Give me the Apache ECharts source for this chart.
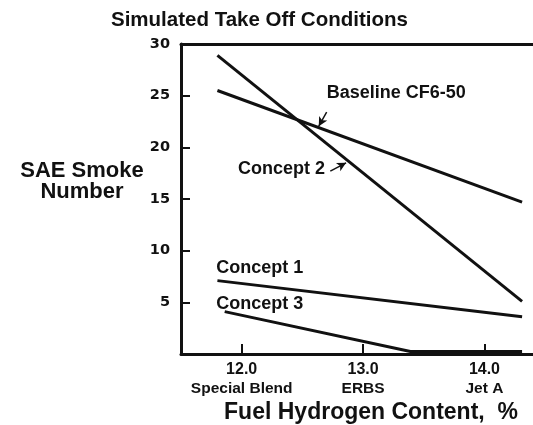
<!DOCTYPE html>
<html>
<head>
<meta charset="utf-8">
<script src="https://cdn.jsdelivr.net/npm/echarts@6/dist/echarts.min.js"></script>
<style>
  html, body { margin: 0; padding: 0; background: #fff; }
  #chart { width: 533px; height: 425px; }
</style>
</head>
<body>
<div id="chart"></div>
<script>
// fuel hydrogen content (%) at line ends
const lineX = [11.8, 14.31]
const baseline = [25.5, 14.7]
const concept2 = [28.9, 5.1]
const concept1 = [7.1, 3.6]
// concept 3 bends onto the axis
const concept3X = [11.86, 13.39, 14.31]
const concept3 = [4.1, 0.25, 0.25]

const xTickValues = [12, 13, 14]
const xTickNames = ['12.0', '13.0', '14.0']
const xTickFuels = ['Special Blend', 'ERBS', 'Jet A']
const yTickValues = [5, 10, 15, 20, 25, 30]

// text labels, anchored in data units (left edge, middle)
const notes = [
  { text: 'Baseline CF6-50', at: [12.70, 25.3] },
  { text: 'Concept 2', at: [11.97, 17.9] },
  { text: 'Concept 1', at: [11.79, 8.3] },
  { text: 'Concept 3', at: [11.79, 4.85] }
]
const arrows = [
  [[12.70, 23.4], [12.635, 22.05]],
  [[12.73, 17.7], [12.86, 18.5]]
]

const font = 'Liberation Sans, Arial, sans-serif'
const black = '#111'

const pairs = (xs, ys) => xs.map((x, i) => [x, ys[i]])

const lineSeries = (name, data) => ({
  name,
  type: 'line',
  data,
  symbol: 'none',
  silent: true,
  lineStyle: { color: black, width: 3 }
})

const chart = echarts.init(document.getElementById('chart'))
chart.setOption({
  animation: false,
  title: {
    text: 'Simulated Take Off Conditions',
    left: 106,
    top: 5,
    textStyle: { fontFamily: font, fontWeight: 'bold', fontSize: 20.5, color: black }
  },
  grid: { left: 181, right: 0, top: 44, bottom: 71, outerBoundsMode: 'none', containLabel: false },
  xAxis: [{
    type: 'value',
    min: 11.5,
    max: 14.4,
    name: 'Fuel Hydrogen Content,  %',
    nameLocation: 'middle',
    nameGap: 41,
    nameTextStyle: { fontFamily: font, fontWeight: 'bold', fontSize: 23, color: black, padding: [0, 0, 0, 28] },
    axisLine: { lineStyle: { color: black, width: 3 } },
    axisTick: { inside: true, length: 10, lineStyle: { color: black, width: 2 }, customValues: xTickValues },
    splitLine: { show: false },
    axisLabel: {
      customValues: xTickValues,
      margin: 6,
      formatter: v => {
        const i = xTickValues.indexOf(v)
        return '{a|' + xTickNames[i] + '}\n{b|' + xTickFuels[i] + '}'
      },
      rich: {
        a: { fontFamily: font, fontWeight: 'bold', fontSize: 16, color: black, lineHeight: 19 },
        b: { fontFamily: font, fontWeight: 'bold', fontSize: 15.5, color: black, lineHeight: 19 }
      }
    }
  }, {
    type: 'value',
    position: 'top',
    min: 11.5,
    max: 14.4,
    axisLine: { lineStyle: { color: black, width: 3 } },
    axisTick: { show: false },
    axisLabel: { show: false },
    splitLine: { show: false }
  }],
  yAxis: {
    type: 'value',
    min: 0,
    max: 30,
    interval: 5,
    name: '{n|SAE Smoke}\n{n|Number}\n{s| }',
    nameLocation: 'middle',
    nameRotate: 0,
    nameGap: 99,
    nameTextStyle: {
      align: 'center',
      verticalAlign: 'middle',
      rich: {
        n: { fontFamily: font, fontWeight: 'bold', fontSize: 22, color: black, lineHeight: 21, align: 'center' },
        s: { fontSize: 10, lineHeight: 36 }
      }
    },
    axisLine: { show: true, lineStyle: { color: black, width: 3 } },
    axisTick: { show: true, inside: true, length: 9, lineStyle: { color: black, width: 2 }, customValues: yTickValues },
    splitLine: { show: false },
    axisLabel: {
      customValues: yTickValues,
      margin: 11,
      fontFamily: 'DejaVu Sans, sans-serif',
      fontWeight: 'bold',
      fontSize: 14.5,
      color: black
    }
  },
  series: [
    Object.assign(lineSeries('Baseline CF6-50', pairs(lineX, baseline)), {
      markPoint: {
        symbol: 'circle',
        symbolSize: 0,
        silent: true,
        label: {
          show: true,
          position: 'right',
          distance: 0,
          fontFamily: font,
          fontWeight: 'bold',
          fontSize: 18,
          color: black,
          formatter: p => p.name
        },
        data: notes.map(n => ({ name: n.text, coord: n.at }))
      },
      markLine: {
        silent: true,
        symbol: ['none', 'arrow'],
        symbolSize: [7, 9],
        label: { show: false },
        lineStyle: { color: black, width: 1.5, type: 'solid' },
        data: arrows.map(a => [{ coord: a[0] }, { coord: a[1] }])
      }
    }),
    lineSeries('Concept 2', pairs(lineX, concept2)),
    lineSeries('Concept 1', pairs(lineX, concept1)),
    lineSeries('Concept 3', pairs(concept3X, concept3))
  ]
})
</script>
</body>
</html>
